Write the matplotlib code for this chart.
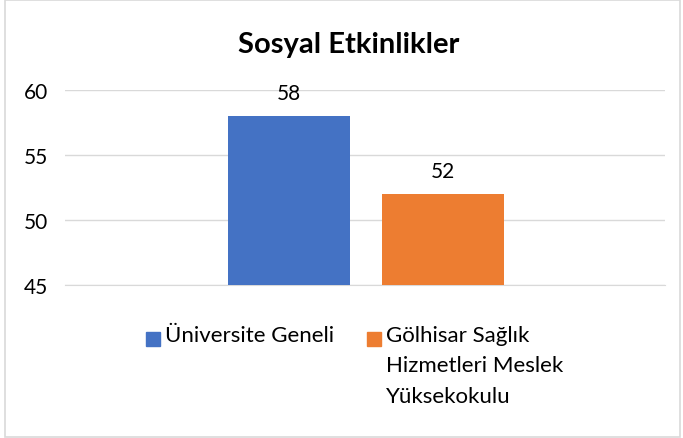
import matplotlib.pyplot as plt
from matplotlib.patches import Rectangle

plt.rcParams['font.family'] = ['Lato', 'DejaVu Sans']

title = "Sosyal Etkinlikler"
series = ["Üniversite Geneli", "Gölhisar Sağlık\nHizmetleri Meslek\nYüksekokulu"]
values = [58, 52]
colors = ["#4472C4", "#ED7D31"]
yticks = [45, 50, 55, 60]

W, H = 683, 439
fig = plt.figure(figsize=(W / 100, H / 100), dpi=100)
ax = fig.add_axes([65 / W, 1 - 286 / H, 600 / W, 195 / H])

width = 0.203
offsets = [-0.127, 0.13]
for off, v, c, lab in zip(offsets, values, colors, series):
    ax.bar(off, v - 45, bottom=45, width=width, color=c, label=lab, zorder=3)
    ax.annotate(str(v), (off, v), xytext=(0, 9), textcoords="offset points",
                ha="center", va="bottom", fontsize=15, color="#000000")

ax.set_xlim(-0.5, 0.5)
ax.set_ylim(45, 60)
ax.set_yticks(yticks)
ax.set_xticks([])
ax.tick_params(axis="y", length=0, pad=12, labelsize=15)
ax.grid(axis="y", color="#D9D9D9", linewidth=1, zorder=0)
for s in ["top", "right", "left"]:
    ax.spines[s].set_visible(False)
ax.spines["bottom"].set_color("#D9D9D9")

fig.text(349 / W, 1 - 45 / H, title, ha="center", va="center",
         fontsize=21, fontweight="bold")

# legend under the plot
lx = [146, 367]
for x0, c, lab in zip(lx, colors, series):
    fig.patches.append(Rectangle((x0 / W, 1 - 347 / H), 14 / W, 14 / H,
                                 transform=fig.transFigure, color=c))
    fig.text((x0 + 19) / W, 1 - 326 / H, lab, ha="left", va="top",
             fontsize=16, linespacing=1.65)

# chart border
fig.patches.append(Rectangle((5 / W, 1 / H), 675 / W, 1 - 2 / H, fill=False,
                             edgecolor="#D9D9D9", linewidth=1.2,
                             transform=fig.transFigure))

fig.savefig("out.png", dpi=100)
